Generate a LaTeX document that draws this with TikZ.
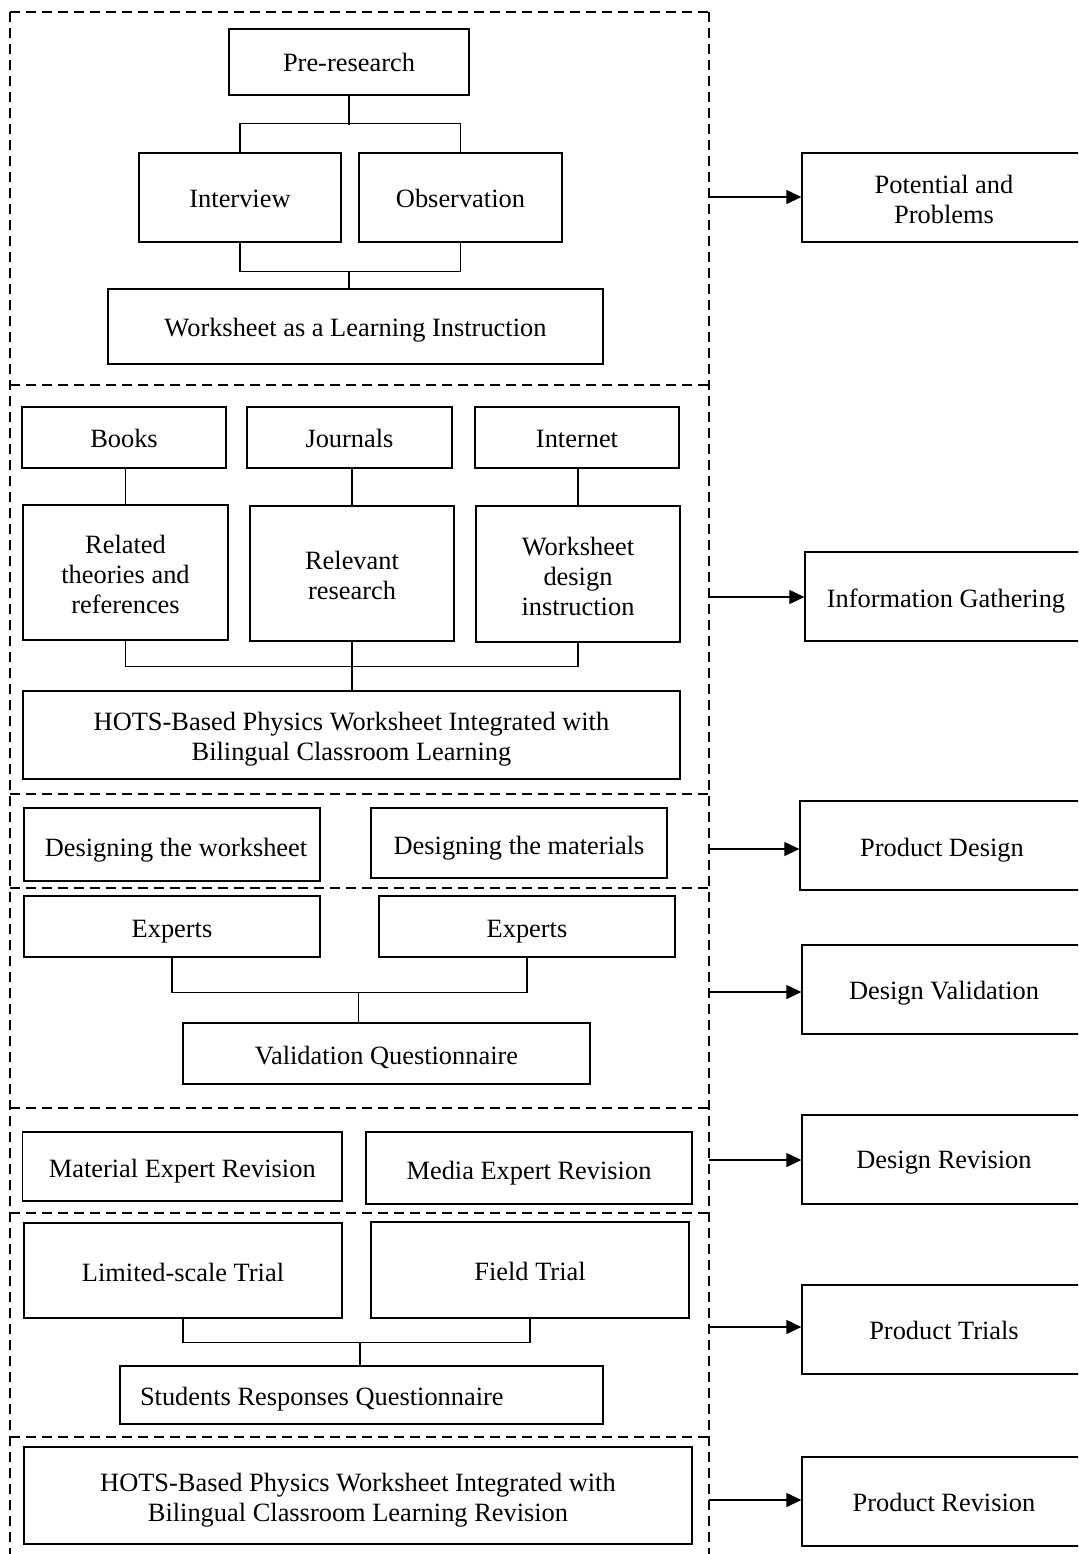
\documentclass[tikz,border=0pt]{standalone}
\usepackage{fontspec}
\setmainfont{Liberation Serif}
\usetikzlibrary{arrows.meta}
\newcommand\lowr[1]{\rule{0pt}{\dimexpr9.2pt+#1pt\relax}}
\begin{document}
\begin{tikzpicture}[x=0.5pt,y=-0.5pt,
  box/.style={draw,line width=0.65pt,rectangle,inner sep=0pt,align=center,
    font=\fontsize{13.2}{15}\selectfont},
  conn/.style={line width=0.6pt},
  sepline/.style={line width=1pt,dash pattern=on 5pt off 3pt},
  arr/.style={line width=0.6pt,-{Triangle[length=7.5pt,width=7pt]}}]
\useasboundingbox (0,0) rectangle (1078,1554);
\begin{scope}
\clip (0,0) rectangle (1078,1554);
% dashed frames
\draw[sepline] (10,12) -- (709,12);
\draw[sepline] (10,12) -- (10,1560);
\draw[sepline] (709,12) -- (709,1560);
\foreach \yy in {385,794,888,1108,1213,1437}
  \draw[sepline] (10,\yy) -- (709,\yy);

% section 1
\node[box,minimum width=120pt,minimum height=33pt] (pre) at (349,62) {Pre-research};
\node[box,minimum width=101pt,minimum height=44.5pt] (int) at (240,197.5) {\lowr{1}Interview};
\node[box,minimum width=101.5pt,minimum height=44.5pt] (obs) at (460.5,197.5) {\lowr{1}Observation};
\node[box,minimum width=247.5pt,minimum height=37.5pt] (ws1) at (355.5,326.5) {\lowr{4}Worksheet as a Learning Instruction};
\draw[conn] (pre.south) -- ++(0,29);
\draw[conn] (int.north) -- ++(0,-29) -| (obs.north);
\draw[conn] (int.south) -- ++(0,29) -| (obs.south);
\coordinate (j1) at (349,271);
\draw[conn] (j1) -- (j1 |- ws1.north);

% section 2
\node[box,minimum width=102pt,minimum height=30.5pt] (books) at (124,437.5) {\lowr{1}Books};
\node[box,minimum width=102.5pt,minimum height=30.5pt] (journals) at (349.5,437.5) {\lowr{1}Journals};
\node[box,minimum width=102pt,minimum height=30.5pt] (internet) at (577,437.5) {\lowr{1}Internet};
\node[box,minimum width=102.5pt,minimum height=67.5pt] (related) at (125.5,572.5) {\lowr{2}Related\\theories and\\references};
\node[box,minimum width=102pt,minimum height=67.5pt] (relevant) at (352,573.5) {\lowr{2}Relevant\\research};
\node[box,minimum width=102pt,minimum height=68pt] (wdi) at (578,574) {\lowr{2}Worksheet\\design\\instruction};
\node[box,minimum width=328.5pt,minimum height=44pt] (hots1) at (351.5,735) {\lowr{4}HOTS-Based Physics Worksheet Integrated with\\Bilingual Classroom Learning};
\draw[conn] (related.north) -- (related.north |- books.south);
\draw[conn] (relevant.north) -- (relevant.north |- journals.south);
\draw[conn] (wdi.north) -- (wdi.north |- internet.south);
\draw[conn] (related.south) -- ++(0,26) -| (wdi.south);
\draw[conn] (relevant.south) -- (relevant.south |- hots1.north);

% section 3
\node[box,minimum width=148pt,minimum height=36.5pt] (dw) at (172,844.5) {\lowr{6}\hspace*{4pt}Designing the worksheet};
\node[box,minimum width=148pt,minimum height=35pt] (dm) at (519,843) {\lowr{5}Designing the materials};

% section 4
\node[box,minimum width=148pt,minimum height=30.5pt] (ex1) at (172,926.5) {\lowr{5}Experts};
\node[box,minimum width=148pt,minimum height=30.5pt] (ex2) at (527,926.5) {\lowr{5}Experts};
\node[box,minimum width=203.5pt,minimum height=30.5pt] (vq) at (386.5,1053.5) {\lowr{4}Validation Questionnaire};
\draw[conn] (ex1.south) -- ++(0,35) -| (ex2.south);
\coordinate (j4) at (358.5,992);
\draw[conn] (j4) -- (j4 |- vq.north);

% section 5
\node[box,minimum width=159.75pt,minimum height=34.5pt] (mer) at (182.25,1166.5) {\lowr{5}Material Expert Revision};
\node[box,minimum width=163pt,minimum height=36pt] (medr) at (529,1168) {\lowr{5}Media Expert Revision};

% section 6
\node[box,minimum width=159pt,minimum height=47.5pt] (lst) at (183,1270.5) {\lowr{2}Limited-scale Trial};
\node[box,minimum width=159pt,minimum height=48pt] (ft) at (530,1270) {\lowr{1}Field Trial};
\node[box,inner xsep=10pt,minimum height=29pt] (srq) at (361.5,1395) {\lowr{4}\makebox[221.5pt][l]{Students Responses Questionnaire}};
\draw[conn] (lst.south) -- ++(0,24) -| (ft.south);
\coordinate (j6) at (360,1342);
\draw[conn] (j6) -- (j6 |- srq.north);

% section 7
\node[box,minimum width=334pt,minimum height=48.5pt] (hots2) at (358,1495.5) {\lowr{5}HOTS-Based Physics Worksheet Integrated with\\Bilingual Classroom Learning Revision};

% right column
\node[box,minimum width=142pt,minimum height=44.5pt] (pp) at (944,197.5) {\lowr{2}Potential and\\Problems};
\node[box,minimum width=141pt,minimum height=44.5pt] (ig) at (946,596.5) {\lowr{5}Information Gathering};
\node[box,minimum width=142pt,minimum height=44.5pt] (pd) at (942,845.5) {\lowr{5}Product Design};
\node[box,minimum width=142pt,minimum height=44.5pt] (dv) at (944,989.5) {\lowr{4}Design Validation};
\node[box,minimum width=142pt,minimum height=44.5pt] (dr) at (944,1159.5) {\lowr{3}Design Revision};
\node[box,minimum width=142pt,minimum height=44.5pt] (ptr) at (944,1329.5) {\lowr{1}Product Trials};
\node[box,minimum width=142pt,minimum height=44.5pt] (pr) at (944,1501.5) {\lowr{1}Product Revision};

\coordinate (a1) at (709,197);
\coordinate (a2) at (709,597);
\coordinate (a3) at (709,849);
\coordinate (a4) at (709,992);
\coordinate (a5) at (709,1160);
\coordinate (a6) at (709,1327);
\coordinate (a7) at (709,1500);
\draw[arr] (a1) -- (a1 -| pp.west);
\draw[arr] (a2) -- (a2 -| ig.west);
\draw[arr] (a3) -- (a3 -| pd.west);
\draw[arr] (a4) -- (a4 -| dv.west);
\draw[arr] (a5) -- (a5 -| dr.west);
\draw[arr] (a6) -- (a6 -| ptr.west);
\draw[arr] (a7) -- (a7 -| pr.west);
\end{scope}
\end{tikzpicture}
\end{document}
